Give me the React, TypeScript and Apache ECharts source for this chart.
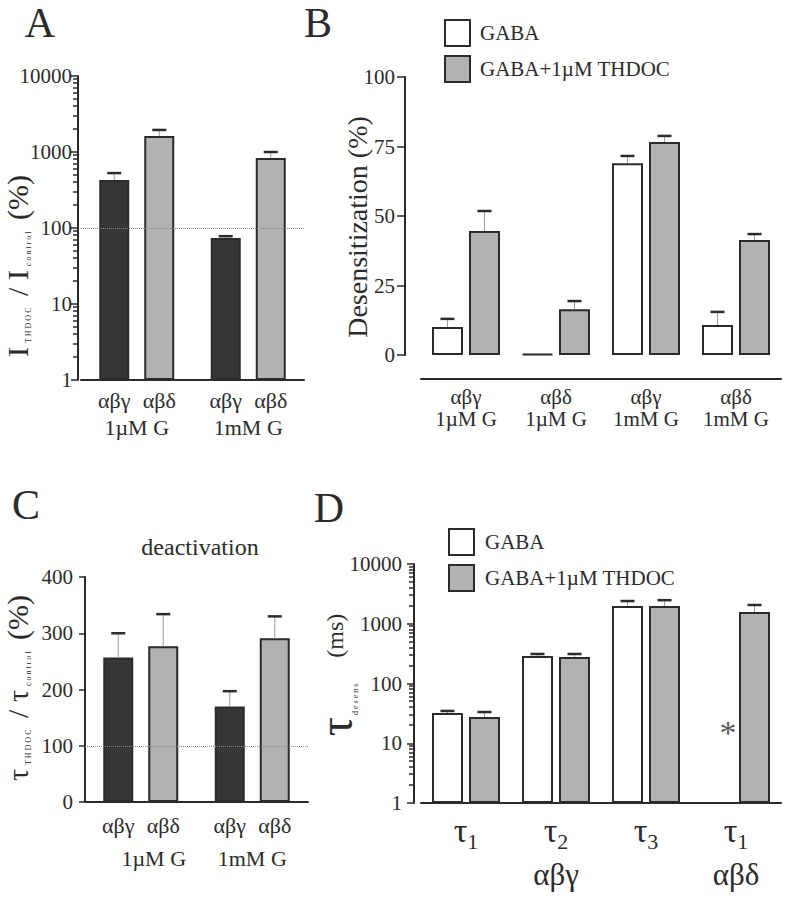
import React, { useEffect, useRef } from "react";
import * as echarts from "echarts";

const FONT = "Liberation Serif";
const INK = "#2b2b2b";
const DARK = "#363636";
const GREY = "#b2b2b2";
const WHITE = "#ffffff";

// ---------- Panel A: I_THDOC / I_control (%) (log) ----------
const aGroups = ["1µM G", "1mM G"];
const aSubunits = ["αβγ", "αβδ"];
const aAbgMean = [427, 74];
const aAbgErr = [101, 4];
const aAbdMean = [1620, 832];
const aAbdErr = [330, 168];

// ---------- Panel B: Desensitization (%) ----------
const bSubunits = ["αβγ", "αβδ", "αβγ", "αβδ"];
const bConc = ["1µM G", "1µM G", "1mM G", "1mM G"];
const bGabaMean = [10.1, 0.4, 69.0, 10.8];
const bGabaErr = [2.9, null, 2.6, 4.7];
const bThdocMean = [44.6, 16.5, 76.6, 41.4];
const bThdocErr = [7.2, 2.9, 2.2, 2.1];

// ---------- Panel C: deactivation tau ratio (%) ----------
const cGroups = ["1µM G", "1mM G"];
const cAbgMean = [257, 170];
const cAbgErr = [43, 27];
const cAbdMean = [277, 291];
const cAbdErr = [57, 39];

// ---------- Panel D: tau desens (ms) (log) ----------
const dTauIndex = ["1", "2", "3", "1"];
const dSubunit = ["", "αβγ", "", "αβδ"];
const dGabaMean = [32, 288, 1980, null];
const dGabaErr = [2.7, 24, 420, null];
const dThdocMean = [27.5, 278, 1980, 1570];
const dThdocErr = [5.8, 34, 500, 490];
const dStar = [[3, 15]];

const legendNames = ["GABA", "GABA+1µM THDOC"];
const logMinorTicks = [
  2, 3, 4, 5, 6, 7, 8, 9,
  20, 30, 40, 50, 60, 70, 80, 90,
  200, 300, 400, 500, 600, 700, 800, 900,
  2000, 3000, 4000, 5000, 6000, 7000, 8000, 9000,
];

// layout
const GRIDS = [
  { left: 81, top: 76, width: 223, height: 304 },
  { left: 421, top: 77, width: 360, height: 278 },
  { left: 85, top: 577, width: 223, height: 225 },
  { left: 421, top: 564, width: 360, height: 239 },
];
const Y_OFFSETS = [3, 16, 0, 7];
const AC_BAR_W = 30;
const AC_GAP_PX = 15;
const BD_BAR_W = 31;
const BD_GAP_PX = 6;

const txt = { fontFamily: FONT, color: INK };
const axisLine = { show: true, onZero: false, lineStyle: { color: INK, width: 2 } };

function barSeries(name: string, xi: number, data: any[], fill: string, w: number, gapPx: number, extra: any = {}) {
  return {
    type: "bar",
    name,
    xAxisIndex: xi,
    yAxisIndex: xi,
    data,
    barWidth: w,
    barGap: (gapPx / w) * 100 + "%",
    itemStyle: { color: fill, borderColor: INK, borderWidth: 2 },
    z: 2,
    ...extra,
  };
}

function errSeries(xi: number, means: any[], errs: any[], offset: number) {
  const data = means
    .map((m, i) => (m == null || errs[i] == null ? null : [i, m, errs[i]]))
    .filter((d) => d !== null);
  return {
    type: "custom",
    xAxisIndex: xi,
    yAxisIndex: xi,
    silent: true,
    clip: false,
    z: 5,
    data,
    renderItem: (params: any, api: any) => {
      const base = api.coord([api.value(0), api.value(1)]);
      const top = api.coord([api.value(0), api.value(1) + api.value(2)]);
      const x = base[0] + offset;
      return {
        type: "group",
        children: [
          { type: "line", shape: { x1: x, y1: base[1], x2: x, y2: top[1] }, style: { stroke: "#9a9a9a", lineWidth: 1 } },
          { type: "line", shape: { x1: x - 7, y1: top[1], x2: x + 7, y2: top[1] }, style: { stroke: INK, lineWidth: 2.5 } },
        ],
      };
    },
  };
}

// minor ticks of a log axis, all drawn by one custom item through the axis' scale
function minorTickSeries(ai: number) {
  const axisOffset = Y_OFFSETS[ai];
  return {
    type: "custom",
    xAxisIndex: ai,
    yAxisIndex: ai,
    silent: true,
    clip: false,
    z: 6,
    data: [[0, 1]],
    renderItem: (params: any, api: any) => {
      const band = api.size([1, 1])[0];
      const children = logMinorTicks.map((v) => {
        const p = api.coord([0, v]);
        const x = p[0] - band / 2 - axisOffset;
        return {
          type: "rect",
          shape: { x: x - 5, y: Math.round(p[1]) - 0.75, width: 5, height: 1.5 },
          style: { fill: INK },
        };
      });
      return { type: "group", children };
    },
  };
}

const seriesLabel = {
  show: true,
  position: "bottom",
  distance: 9,
  formatter: "{a}",
  fontSize: 22,
  ...txt,
};

const dottedRef = {
  silent: true,
  symbol: ["none", "none"],
  label: { show: false },
  lineStyle: { type: "dotted", color: "#8a8a8a", width: 1 },
  data: [{ yAxis: 100 }],
};

const logFmt = (v: number) => String(Math.round(v));

function yTitle(x: number, y: number, text: string, rich: any) {
  return {
    type: "text",
    x,
    y,
    rotation: Math.PI / 2,
    style: { text, rich, align: "center", verticalAlign: "middle", fontFamily: FONT, fill: INK },
  };
}

function letter(x: number, y: number, t: string) {
  return {
    type: "text",
    x,
    y,
    style: { text: t, fontSize: 42, fontFamily: FONT, fill: INK, align: "center", verticalAlign: "middle" },
  };
}

export default function App() {
  const ref = useRef<HTMLDivElement>(null);

  useEffect(() => {
    if (!ref.current) return;
    const chart = echarts.init(ref.current, null, { renderer: "svg" });

    const big = { fontSize: 30, fontFamily: FONT, fill: INK };
    const sub = { fontSize: 8, fontFamily: FONT, fill: INK, verticalAlign: "bottom", padding: [0, 4, 0, 4] };

    const graphic: any[] = [
      letter(40, 23, "A"),
      letter(318, 23, "B"),
      letter(26, 505, "C"),
      letter(329, 508, "D"),
      {
        type: "text",
        x: 200,
        y: 547,
        style: { text: "deactivation", fontSize: 24, fontFamily: FONT, fill: INK, align: "center", verticalAlign: "middle" },
      },
      yTitle(17, 266, "{b|I}{s|T H D O C}{b| / I}{s|c o n t r o l}{b| (%)}", { b: big, s: sub }),
      yTitle(17, 688, "{b|τ}{s|T H D O C}{b| / τ}{s|c o n t r o l}{b| (%)}", { b: big, s: sub }),
      {
        type: "text",
        x: 357,
        y: 227,
        rotation: Math.PI / 2,
        style: { text: "Desensitization (%)", fontSize: 28, fontFamily: FONT, fill: INK, align: "center", verticalAlign: "middle" },
      },
      yTitle(335, 675, "{t|τ}{s|d e s e n s}{p|(ms)}", {
        t: { fontSize: 48, fontFamily: FONT, fill: INK },
        s: { fontSize: 8, fontFamily: FONT, fill: INK, verticalAlign: "bottom", padding: [0, 2, 0, 2] },
        p: { fontSize: 24, fontFamily: FONT, fill: INK, padding: [0, 0, 0, 24] },
      }),
    ];

    const option: any = {
      animation: false,
      backgroundColor: "#ffffff",
      grid: GRIDS,
      xAxis: [
        {
          gridIndex: 0,
          type: "category",
          data: aGroups,
          axisLine,
          axisTick: { show: false },
          axisLabel: { fontSize: 22, margin: 36, ...txt },
        },
        {
          gridIndex: 1,
          type: "category",
          data: bSubunits.map((s, i) => s + "\n" + bConc[i]),
          offset: 24,
          axisLine,
          axisTick: { show: false },
          axisLabel: { fontSize: 21, lineHeight: 22, margin: 7, ...txt },
        },
        {
          gridIndex: 2,
          type: "category",
          data: [{ value: cGroups[0], textStyle: { padding: [0, 0, 0, 26] } }, cGroups[1]],
          axisLine,
          axisTick: { show: false },
          axisLabel: { fontSize: 22, margin: 45, ...txt },
        },
        {
          gridIndex: 3,
          type: "category",
          data: dTauIndex.map((t, i) => `{t|τ}{s|${t}}` + (dSubunit[i] ? `\n{g|${dSubunit[i]}}` : "")),
          axisLine,
          axisTick: { show: false },
          axisLabel: {
            margin: 5,
            ...txt,
            rich: {
              t: { fontSize: 34, lineHeight: 44, fontFamily: FONT, color: INK },
              s: { fontSize: 22, lineHeight: 34, verticalAlign: "bottom", fontFamily: FONT, color: INK },
              g: { fontSize: 31, lineHeight: 44, fontFamily: FONT, color: INK },
            },
          },
        },
      ],
      yAxis: [
        {
          gridIndex: 0,
          type: "log",
          logBase: 10,
          min: 1,
          max: 10000,
          offset: Y_OFFSETS[0],
          axisLine,
          axisTick: { show: true, length: 7, lineStyle: { color: INK, width: 1.5 } },
          axisLabel: { fontSize: 21, margin: 6, formatter: logFmt, ...txt },
          splitLine: { show: false },
        },
        {
          gridIndex: 1,
          type: "value",
          min: 0,
          max: 100,
          interval: 25,
          offset: Y_OFFSETS[1],
          axisLine,
          axisTick: { show: true, length: 8, lineStyle: { color: INK, width: 1.5 } },
          axisLabel: { fontSize: 21, margin: 10, ...txt },
          splitLine: { show: false },
        },
        {
          gridIndex: 2,
          type: "value",
          min: 0,
          max: 400,
          interval: 100,
          offset: Y_OFFSETS[2],
          axisLine,
          axisTick: { show: true, length: 6, lineStyle: { color: INK, width: 1.5 } },
          axisLabel: { fontSize: 21, margin: 12, ...txt },
          splitLine: { show: false },
        },
        {
          gridIndex: 3,
          type: "log",
          logBase: 10,
          min: 1,
          max: 10000,
          offset: Y_OFFSETS[3],
          axisLine,
          axisTick: { show: true, length: 7, lineStyle: { color: INK, width: 1.5 } },
          axisLabel: { fontSize: 21, margin: 12, formatter: logFmt, ...txt },
          splitLine: { show: false },
        },
      ],
      legend: [
        {
          data: legendNames,
          left: 439,
          top: 14,
          orient: "vertical",
          icon: "rect",
          itemWidth: 25,
          itemHeight: 26,
          itemGap: 8,
          selectedMode: false,
          textStyle: { fontSize: 21, padding: [0, 0, 0, 5], ...txt },
        },
        {
          data: legendNames,
          left: 443,
          top: 523,
          orient: "vertical",
          icon: "rect",
          itemWidth: 25,
          itemHeight: 26,
          itemGap: 8,
          selectedMode: false,
          textStyle: { fontSize: 21, padding: [0, 0, 0, 6], ...txt },
        },
      ],
      series: [
        // A
        barSeries(aSubunits[0], 0, aAbgMean, DARK, AC_BAR_W, AC_GAP_PX, { label: seriesLabel, markLine: dottedRef }),
        barSeries(aSubunits[1], 0, aAbdMean, GREY, AC_BAR_W, AC_GAP_PX, { label: seriesLabel }),
        errSeries(0, aAbgMean, aAbgErr, -(AC_BAR_W + AC_GAP_PX) / 2),
        errSeries(0, aAbdMean, aAbdErr, (AC_BAR_W + AC_GAP_PX) / 2),
        minorTickSeries(0),
        // B
        barSeries(legendNames[0], 1, bGabaMean, WHITE, BD_BAR_W, BD_GAP_PX),
        barSeries(legendNames[1], 1, bThdocMean, GREY, BD_BAR_W, BD_GAP_PX),
        errSeries(1, bGabaMean, bGabaErr, -(BD_BAR_W + BD_GAP_PX) / 2),
        errSeries(1, bThdocMean, bThdocErr, (BD_BAR_W + BD_GAP_PX) / 2),
        // C
        barSeries(aSubunits[0], 2, cAbgMean, DARK, AC_BAR_W, AC_GAP_PX, {
          label: { ...seriesLabel, distance: 12 },
          markLine: dottedRef,
        }),
        barSeries(aSubunits[1], 2, cAbdMean, GREY, AC_BAR_W, AC_GAP_PX, { label: { ...seriesLabel, distance: 12 } }),
        errSeries(2, cAbgMean, cAbgErr, -(AC_BAR_W + AC_GAP_PX) / 2),
        errSeries(2, cAbdMean, cAbdErr, (AC_BAR_W + AC_GAP_PX) / 2),
        // D
        barSeries(legendNames[0], 3, dGabaMean, WHITE, BD_BAR_W, BD_GAP_PX),
        barSeries(legendNames[1], 3, dThdocMean, GREY, BD_BAR_W, BD_GAP_PX),
        errSeries(3, dGabaMean, dGabaErr, -(BD_BAR_W + BD_GAP_PX) / 2),
        errSeries(3, dThdocMean, dThdocErr, (BD_BAR_W + BD_GAP_PX) / 2),
        minorTickSeries(3),
        {
          type: "scatter",
          xAxisIndex: 3,
          yAxisIndex: 3,
          data: dStar,
          symbolSize: 1,
          itemStyle: { color: "rgba(0,0,0,0)" },
          silent: true,
          z: 7,
          label: { show: true, position: "inside", offset: [-8, 0], formatter: "*", fontSize: 34, ...txt },
        },
      ],
      graphic,
    };

    chart.setOption(option);
    return () => chart.dispose();
  }, []);

  return <div ref={ref} style={{ position: "absolute", left: 0, top: 0, width: 786, height: 900 }} />;
}
